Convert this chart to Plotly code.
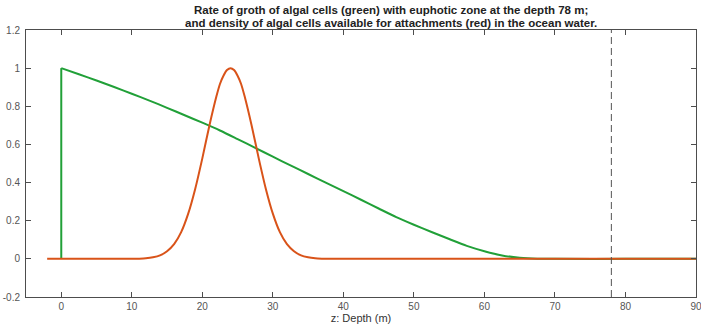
import plotly.graph_objects as go

# Green: growth rate vs depth
green_x_step = [0, 0]
green_y_step = [0, 1.0]
green_x = [0, 2.5, 5, 7.5, 10, 12.5, 15, 17.5, 20, 22.5, 25, 27.5, 30, 32.5, 35, 37.5, 40,
           42.5, 45, 47.5, 50, 52.5, 55, 57.5, 60, 62.5, 65, 67.5, 70, 80, 90]
green_y = [1.0, 0.968, 0.935, 0.901, 0.866, 0.83, 0.792, 0.753, 0.714, 0.673, 0.628, 0.582,
           0.536, 0.49, 0.445, 0.4, 0.355, 0.31, 0.264, 0.219, 0.179, 0.141, 0.104, 0.068,
           0.04, 0.018, 0.006, 0.001, 0.0, 0.0, 0.0]

# Red: density of algal cells
red_x = [-2, 9, 10, 11, 12, 13, 14, 15, 16, 17, 18, 19, 20, 21, 22, 22.5, 23, 23.5, 24,
         24.5, 25, 25.5, 26, 27, 28, 29, 30, 31, 32, 33, 34, 35, 36, 37, 38, 39, 90]
red_y = [0, 0, 0, 0.001, 0.003, 0.008, 0.018, 0.04, 0.077, 0.14, 0.237, 0.368, 0.527,
         0.698, 0.852, 0.917, 0.96, 0.99, 1.0, 0.99, 0.96, 0.917, 0.852, 0.698, 0.527,
         0.368, 0.237, 0.14, 0.077, 0.04, 0.018, 0.008, 0.003, 0.001, 0, 0, 0]

# Euphotic zone depth marker
euphotic_x = [78, 78]
euphotic_y = [-0.2, 1.2]

x_ticks = [0, 10, 20, 30, 40, 50, 60, 70, 80, 90]
y_ticks = [-0.2, 0, 0.2, 0.4, 0.6, 0.8, 1.0, 1.2]
y_tick_text = ["-0.2", "0", "0.2", "0.4", "0.6", "0.8", "1", "1.2"]

title_lines = [
    "Rate of groth of algal cells (green) with euphotic zone at the depth 78 m;",
    "and density of algal cells available for attachments (red) in the ocean water.",
]

GREEN = "#21A038"
RED = "#D95319"

fig = go.Figure()
fig.add_trace(go.Scatter(x=green_x_step, y=green_y_step, mode="lines",
                         line=dict(color=GREEN, width=2), hoverinfo="skip"))
fig.add_trace(go.Scatter(x=green_x, y=green_y, mode="lines",
                         line=dict(color=GREEN, width=2, shape="spline", smoothing=0.8)))
fig.add_trace(go.Scatter(x=red_x, y=red_y, mode="lines",
                         line=dict(color=RED, width=2, shape="spline", smoothing=0.7)))
fig.add_trace(go.Scatter(x=euphotic_x, y=euphotic_y, mode="lines",
                         line=dict(color="#555555", width=1, dash="7px,4px")))

for i, line in enumerate(title_lines):
    fig.add_annotation(text=f"<b>{line}</b>", xref="paper", yref="paper",
                       x=0.545, y=1, xanchor="center", yanchor="middle",
                       yshift=20 - 13 * i, showarrow=False,
                       font=dict(family="Liberation Sans", size=11.5, color="#222222"))

axis_common = dict(showgrid=False, zeroline=False, showline=True, linecolor="#4d4d4d",
                   linewidth=1, mirror="ticks", ticks="inside", ticklen=5,
                   tickcolor="#4d4d4d", automargin=False, ticklabeloverflow="allow",
                   tickfont=dict(family="Liberation Sans", size=10, color="#555555"))
fig.update_layout(
    width=701, height=327,
    margin=dict(l=26, r=5, t=30, b=30),
    paper_bgcolor="white", plot_bgcolor="white",
    showlegend=False,
    xaxis=dict(range=[-5, 90], tickvals=x_ticks,
               title=dict(text="z: Depth (m)", standoff=3,
                          font=dict(family="Liberation Sans", size=11, color="#333333")),
               **axis_common),
    yaxis=dict(range=[-0.2, 1.2], tickvals=y_ticks, ticktext=y_tick_text,
               ticklabelstandoff=3, **axis_common),
)
fig.write_html("out.html", config={"displayModeBar": False},
               post_script="document.body.style.margin='0';")
